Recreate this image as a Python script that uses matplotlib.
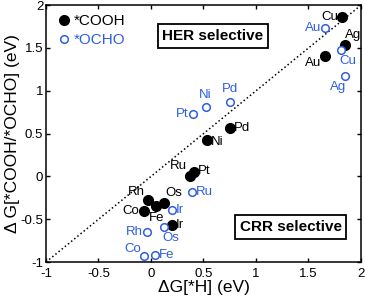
import matplotlib
matplotlib.use("Agg")
import matplotlib.pyplot as plt

plt.rcParams["font.family"] = ["Liberation Sans", "DejaVu Sans"]

BLUE = "#2f5fe0"

# *COOH (filled black)
cooh_names = ["Cu", "Ag", "Au", "Pd", "Ni", "Pt", "Ru", "Rh", "Co", "Fe", "Os", "Ir"]
cooh_x = [1.82, 1.85, 1.66, 0.75, 0.53, 0.41, 0.37, -0.03, -0.07, 0.05, 0.12, 0.20]
cooh_y = [1.86, 1.53, 1.41, 0.57, 0.42, 0.05, 0.01, -0.28, -0.40, -0.34, -0.31, -0.57]

# *OCHO (open blue)
ocho_names = ["Au", "Cu", "Ag", "Pd", "Ni", "Pt", "Ru", "Ir", "Rh", "Os", "Co", "Fe"]
ocho_x = [1.66, 1.81, 1.85, 0.75, 0.52, 0.40, 0.39, 0.20, -0.04, 0.12, -0.07, 0.04]
ocho_y = [1.73, 1.48, 1.17, 0.87, 0.81, 0.73, -0.18, -0.39, -0.65, -0.59, -0.93, -0.92]

# label placement: (dx, dy in points, ha, va)
cooh_off = {
    "Cu": (-3, 0, "right", "center"), "Ag": (0, 3, "left", "bottom"),
    "Au": (-3, -5, "right", "center"), "Pd": (3, 0, "left", "center"),
    "Ni": (3, -1, "left", "center"), "Pt": (3, 1, "left", "center"),
    "Ru": (-2, 7, "right", "center"), "Rh": (-2, 6, "right", "center"),
    "Co": (-3, 0, "right", "center"), "Fe": (0, -9, "center", "center"),
    "Os": (1, 7, "left", "center"), "Ir": (3, 0, "left", "center"),
}
ocho_off = {
    "Au": (-3, 0, "right", "center"), "Cu": (-1, -8, "left", "center"),
    "Ag": (1, -8, "right", "center"), "Pd": (0, 9, "center", "center"),
    "Ni": (0, 9, "center", "center"), "Pt": (-3, 0, "right", "center"),
    "Ru": (3, 0, "left", "center"), "Ir": (3, 0, "left", "center"),
    "Rh": (-3, 0, "right", "center"), "Os": (-1, -8, "left", "center"),
    "Co": (-2, 5, "right", "center"), "Fe": (3, 0, "left", "center"),
}

fig = plt.figure(figsize=(3.65, 3.03), dpi=100)
ax = fig.add_axes([0.126, 0.135, 0.863, 0.848])

ax.plot([-1, 2], [-1, 2], color="black", linestyle=":", linewidth=1.1)

ax.plot(cooh_x, cooh_y, "o", color="black", markersize=7, linestyle="none",
        label="*COOH")
ax.plot(ocho_x, ocho_y, "o", markerfacecolor="white", markeredgecolor=BLUE,
        markeredgewidth=1.1, markersize=5.5, linestyle="none", label="*OCHO")

for n, x, y in zip(cooh_names, cooh_x, cooh_y):
    dx, dy, ha, va = cooh_off[n]
    ax.annotate(n, (x, y), xytext=(dx, dy), textcoords="offset points",
                ha=ha, va=va, fontsize=9.5, color="black")
for n, x, y in zip(ocho_names, ocho_x, ocho_y):
    dx, dy, ha, va = ocho_off[n]
    ax.annotate(n, (x, y), xytext=(dx, dy), textcoords="offset points",
                ha=ha, va=va, fontsize=9.5, color=BLUE)

box = dict(boxstyle="square,pad=0.3", facecolor="white", edgecolor="black",
           linewidth=1.3)
ax.text(0.59, 1.64, "HER selective", fontsize=11, fontweight="bold",
        ha="center", va="center", bbox=box)
ax.text(1.33, -0.59, "CRR selective", fontsize=11, fontweight="bold",
        ha="center", va="center", bbox=box)

ax.set_xlim(-1, 2)
ax.set_ylim(-1, 2)
ticks = [-1, -0.5, 0, 0.5, 1, 1.5, 2]
labels = ["-1", "-0.5", "0", "0.5", "1", "1.5", "2"]
ax.set_xticks(ticks)
ax.set_xticklabels(labels)
ax.set_yticks(ticks)
ax.set_yticklabels(labels)
for s in ax.spines.values():
    s.set_linewidth(1.1)
ax.tick_params(direction="in", top=True, right=True, labelsize=9.5, length=3,
               width=1, pad=2)
ax.tick_params(axis="x", pad=4)
ax.set_xlabel("ΔG[*H] (eV)", fontsize=12.5, labelpad=0)
ax.set_ylabel("Δ G[*COOH/*OCHO] (eV)", fontsize=12.5, labelpad=0)

leg = ax.legend(loc="upper left", frameon=False, fontsize=11, handletextpad=0,
                handlelength=1.2, borderaxespad=0.2, labelspacing=0.3)
leg.get_texts()[1].set_color(BLUE)

fig.savefig("out.png", dpi=100)
